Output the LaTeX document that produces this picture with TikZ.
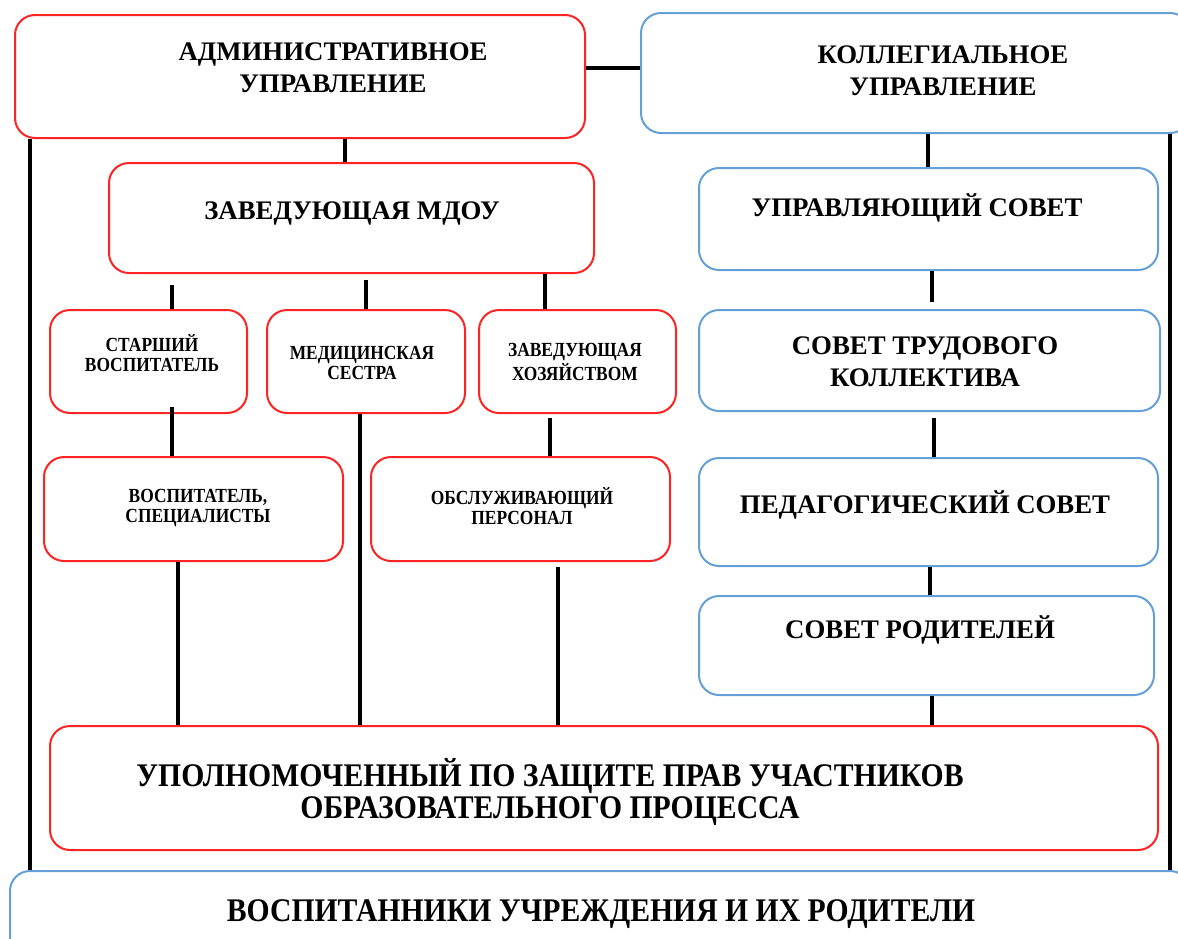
\documentclass[tikz,border=0pt]{standalone}
\usepackage{fontspec}
\setmainfont{Liberation Serif}
\newfontfamily\narrowfont[FakeStretch=0.9]{Liberation Serif}
\newfontfamily\smallfont[FakeStretch=0.87]{Liberation Serif}
\definecolor{myred}{RGB}{255,35,35}
\definecolor{myblue}{RGB}{100,160,215}
\tikzstyle{redbox}=[draw=myred,line width=1pt,rounded corners=10pt,inner sep=0pt]
\tikzstyle{bluebox}=[draw=myblue,line width=1pt,rounded corners=10pt,inner sep=0pt]
\tikzstyle{bigtxt}=[font=\fontsize{13.4}{16}\selectfont\bfseries,align=center]
\tikzstyle{widetxt}=[font=\narrowfont\fontsize{16.5}{16}\selectfont\bfseries,align=center]
\tikzstyle{smalltxt}=[font=\smallfont\fontsize{10}{10}\selectfont\bfseries,align=center]
\tikzstyle{conn}=[line width=1.6pt]

\begin{document}
\begin{tikzpicture}[x=0.5pt,y=-0.5pt]
		\useasboundingbox (0,0) rectangle (1178,938);

		% administrative side
		\node[redbox,minimum width=285pt,minimum height=61.5pt] (adm) at (300,76.5) {};
		\node[bigtxt] (admT) at (333,68) {АДМИНИСТРАТИВНОЕ\\УПРАВЛЕНИЕ};
		\node[redbox,minimum width=242.5pt,minimum height=55pt] (zav) at (351.5,218) {};
		\node[bigtxt] (zavT) at (352,213) {ЗАВЕДУЮЩАЯ МДОУ};

		\node[redbox,minimum width=98.5pt,minimum height=51.5pt] (star) at (148.5,361.5) {};
		\node[smalltxt] (starT) at (152,353) {СТАРШИЙ\\ВОСПИТАТЕЛЬ};
		\node[redbox,minimum width=99pt,minimum height=51.5pt] (med) at (366,361.5) {};
		\node[smalltxt] (medT) at (362,363) {МЕДИЦИНСКАЯ\\СЕСТРА};
		\node[redbox,minimum width=98.5pt,minimum height=51.5pt] (hoz) at (577.5,361.5) {};
		\node[smalltxt] (hozT) at (575,362) {ЗАВЕДУЮЩАЯ\\ХОЗЯЙСТВОМ};

		\node[redbox,minimum width=149.5pt,minimum height=52pt] (vosp) at (193.5,509) {};
		\node[smalltxt] (vospT) at (198,508) {ВОСПИТАТЕЛЬ,\\СПЕЦИАЛИСТЫ};
		\node[redbox,minimum width=149.5pt,minimum height=52pt] (obsl) at (520.5,509) {};
		\node[smalltxt] (obslT) at (522,506) {ОБСЛУЖИВАЮЩИЙ\\ПЕРСОНАЛ};

		% collegial side
		\node[bluebox,minimum width=274.5pt,minimum height=60pt] (koll) at (915.5,73) {};
		\node[bigtxt] (kollT) at (943,71) {КОЛЛЕГИАЛЬНОЕ\\УПРАВЛЕНИЕ};
		\node[bluebox,minimum width=229.5pt,minimum height=51pt] (upr) at (928.5,219) {};
		\node[bigtxt] (uprT) at (917,208) {УПРАВЛЯЮЩИЙ СОВЕТ};
		\node[bluebox,minimum width=230.5pt,minimum height=50.5pt] (trud) at (929.5,360.5) {};
		\node[bigtxt] (trudT) at (925,362) {СОВЕТ ТРУДОВОГО\\КОЛЛЕКТИВА};
		\node[bluebox,minimum width=229.5pt,minimum height=54pt] (ped) at (928.5,512) {};
		\node[bigtxt] (pedT) at (925,505) {ПЕДАГОГИЧЕСКИЙ СОВЕТ};
		\node[bluebox,minimum width=227.5pt,minimum height=49.5pt] (rod) at (926.5,645.5) {};
		\node[bigtxt] (rodT) at (920,630) {СОВЕТ РОДИТЕЛЕЙ};

		% bottom
		\node[redbox,minimum width=554pt,minimum height=62pt] (upol) at (604,788) {};
		\node[widetxt] (upolT) at (550,792) {УПОЛНОМОЧЕННЫЙ ПО ЗАЩИТЕ ПРАВ УЧАСТНИКОВ\\ОБРАЗОВАТЕЛЬНОГО ПРОЦЕССА};
		\node[bluebox,minimum width=590pt,minimum height=44.5pt] (ruk) at (600,915.5) {};
		\node[widetxt] (rukT) at (601,914) {ВОСПИТАННИКИ УЧРЕЖДЕНИЯ И ИХ РОДИТЕЛИ};

		% links
		\draw[conn] (adm.east |- 0,68) -- (koll.west |- 0,68);
		\draw[conn] (345,0 |- adm.south) -- (345,0 |- zav.north);
		\draw[conn] (172,0 |- 285,285) -- (172,0 |- star.north);
		\draw[conn] (366,0 |- 280,280) -- (366,0 |- med.north);
		\draw[conn] (545,0 |- zav.south) -- (545,0 |- hoz.north);
		\draw[conn] (172,0 |- 407,407) -- (172,0 |- vosp.north);
		\draw[conn] (550,0 |- 418,418) -- (550,0 |- obsl.north);
		\draw[conn] (178,0 |- vosp.south) -- (178,0 |- upol.north);
		\draw[conn] (360,0 |- med.south) -- (360,0 |- upol.north);
		\draw[conn] (558,0 |- 567,567) -- (558,0 |- upol.north);

		\draw[conn] (928,0 |- koll.south) -- (928,0 |- upr.north);
		\draw[conn] (932,0 |- upr.south) -- (932,0 |- 302,302);
		\draw[conn] (934,0 |- 418,418) -- (934,0 |- ped.north);
		\draw[conn] (930,0 |- ped.south) -- (930,0 |- rod.north);
		\draw[conn] (932,0 |- rod.south) -- (932,0 |- upol.north);

		\draw[conn] (30,0 |- adm.south) -- (30,0 |- ruk.north);
		\draw[conn] (1170,0 |- koll.south) -- (1170,0 |- ruk.north);
\end{tikzpicture}
\end{document}
